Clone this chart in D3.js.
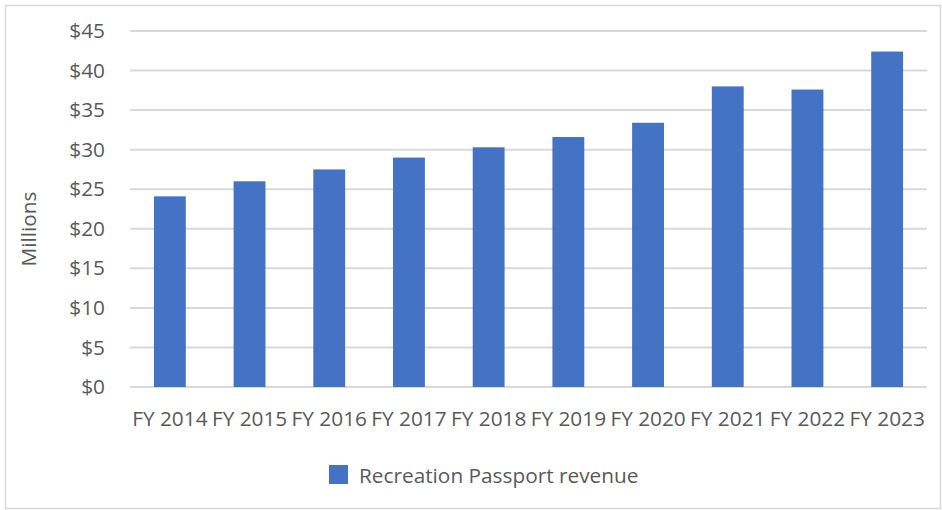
<!DOCTYPE html>
<html><head><meta charset="utf-8">
<script src="https://cdn.jsdelivr.net/npm/d3@7"></script>
<style>body{margin:0;background:#fff}svg{display:block}text{font-family:"Open Sans",sans-serif;fill:#595959}</style>
</head><body>
<svg id="c" width="942" height="510"></svg>
<script>
const categories = ["FY 2014","FY 2015","FY 2016","FY 2017","FY 2018","FY 2019","FY 2020","FY 2021","FY 2022","FY 2023"];
const revenue = [24.1, 26.0, 27.5, 29.0, 30.3, 31.6, 33.4, 38.0, 37.6, 42.4];
const yTicks = [0,5,10,15,20,25,30,35,40,45];
const seriesName = "Recreation Passport revenue";

const svg = d3.select("#c");
const L = 130, R = 927, T = 31, B = 387;
const FS = "20.8px";
svg.append("rect").attr("x",5.5).attr("y",5.5).attr("width",935).attr("height",503)
  .attr("fill","none").attr("stroke","#d9d9d9").attr("stroke-width",1.5);

const x = d3.scaleBand().domain(categories).range([L,R]).paddingInner(0.6).paddingOuter(0.3);
const y = d3.scaleLinear().domain([0,45]).range([B,T]);

svg.append("g").selectAll("line").data(yTicks).join("line")
  .attr("x1",L).attr("x2",R).attr("y1",d=>y(d)).attr("y2",d=>y(d))
  .attr("stroke","#d9d9d9").attr("stroke-width",2);

const yAxis = svg.append("g").attr("transform",`translate(${L},0)`)
  .call(d3.axisLeft(y).tickValues(yTicks).tickFormat(d=>"$"+d).tickSize(0).tickPadding(25));
yAxis.select(".domain").remove();
yAxis.selectAll("text").style("font-size",FS).attr("fill","#595959");

svg.append("g").selectAll("rect").data(revenue).join("rect")
  .attr("x",(d,i)=>x(categories[i])).attr("width",x.bandwidth())
  .attr("y",d=>y(d)).attr("height",d=>B-y(d)).attr("fill","#4472c4");

const xAxis = svg.append("g").attr("transform",`translate(0,${B})`)
  .call(d3.axisBottom(x).tickSize(0).tickPadding(24));
xAxis.select(".domain").remove();
xAxis.selectAll("text").style("font-size",FS).attr("fill","#595959");

svg.append("text").attr("transform","translate(36,229) rotate(-90)")
  .attr("text-anchor","middle").style("font-size",FS).text("Millions");

svg.append("rect").attr("x",329).attr("y",465).attr("width",19).attr("height",19).attr("fill","#4472c4");
svg.append("text").attr("x",359).attr("y",483).style("font-size",FS).text(seriesName);
</script>
</body></html>
